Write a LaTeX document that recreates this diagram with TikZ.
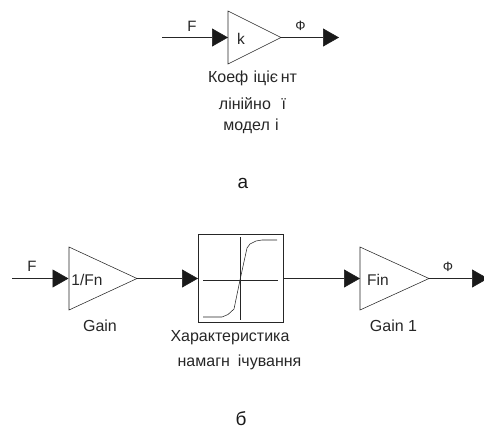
\documentclass[tikz,border=0pt]{standalone}
\usepackage{fontspec}
\setmainfont{Liberation Sans}
\usetikzlibrary{arrows.meta}
\tikzset{
  wire/.style={line width=0.55pt,color=black!85,-{Triangle[length=16pt,width=18pt,color=black!90]}},
  block/.style={line width=0.55pt,color=black!85},
  lbl/.style={inner sep=0pt,text=black!85,font=\fontsize{15}{15}\selectfont},
  phitext/.style={inner sep=0pt,text=black!85,font=\fontsize{13.5}{14}\selectfont},
  gaintext/.style={inner sep=0pt,text=black!85,font=\fontsize{15.5}{16}\selectfont},
  captext/.style={inner sep=0pt,text=black!85,font=\fontsize{16}{16}\selectfont},
  subtext/.style={inner sep=0pt,text=black!90,font=\fontsize{19}{19}\selectfont}
}
\begin{document}
\begin{tikzpicture}[x=1pt,y=-1pt]
\useasboundingbox (0,0) rectangle (484,429);
\clip (0,0) rectangle (484,429);
% a
\coordinate (aIn) at (162,37.5);
\coordinate (aT1) at (228,11);
\coordinate (aT2) at (228,64);
\coordinate (aL) at (228,37.5);
\coordinate (aR) at (281,37.5);
\coordinate (aOut) at (339,37.5);
\draw[block] (aT1) -- (aR) -- (aT2) -- cycle;
\draw[wire] (aIn) -- (aL);
\draw[wire] (aR) -- (aOut);
\node[lbl] (aF) at (192,26) {F};
\node[phitext] (aPhi) at (300.5,26) {Ф};
\node[gaintext] (aK) at (241,38.5) {k};
\node[captext] (aC1) at (252.5,78.5) {Коеф\,\,іціє\,нт};
\node[captext] (aC2) at (252.5,104) {лінійно\,\,\,\,ї};
\node[captext] (aC3) at (251,126) {модел\,\,і};
\node[subtext] (aSub) at (243,183) {а};
% b
\coordinate (bIn) at (12,278.5);
\coordinate (g1T) at (69,247);
\coordinate (g1B) at (69,310);
\coordinate (g1L) at (68.5,278.5);
\coordinate (g1R) at (137,278.5);
\coordinate (g2T) at (360,247);
\coordinate (g2B) at (360,310);
\coordinate (g2L) at (360,278.5);
\coordinate (g2R) at (429,278.5);
\coordinate (bOut) at (488,278.5);
\coordinate (boxL) at (198,278.5);
\coordinate (boxR) at (283,278.5);
\draw[block] (g1T) -- (g1R) -- (g1B) -- cycle;
\draw[block] (g2T) -- (g2R) -- (g2B) -- cycle;
\draw[block] (198,234) rectangle (283,322);
\draw[block] (203,280) -- (278,280);
\draw[block] (240,237) -- (240,320);
\draw[block] (203,317) -- (222,317) -- (228,314.5) -- (234,309) -- (240,280) -- (247,248) -- (250,244) -- (256,241) -- (262,240) -- (277,240);
\draw[wire] (bIn) -- (g1L);
\draw[wire] (g1R) -- (boxL);
\draw[wire] (boxR) -- (g2L);
\draw[wire] (g2R) -- (bOut);
\node[lbl] (bF) at (32,266) {F};
\node[phitext] (bPhi) at (448,267) {Ф};
\node[gaintext] (g1N) at (87,279.5) {1/Fn};
\node[gaintext] (g2N) at (378,279.5) {Fin};
\node[captext] (g1C) at (100,325.5) {Gain};
\node[captext] (g2C) at (393.5,325.5) {Gain 1};
\node[captext] (sC1) at (230,338) {Характеристика};
\node[captext] (sC2) at (239.5,362) {намагн\,\,\,ічування};
\node[subtext] (bSub) at (241,419) {б};
\end{tikzpicture}
\end{document}
